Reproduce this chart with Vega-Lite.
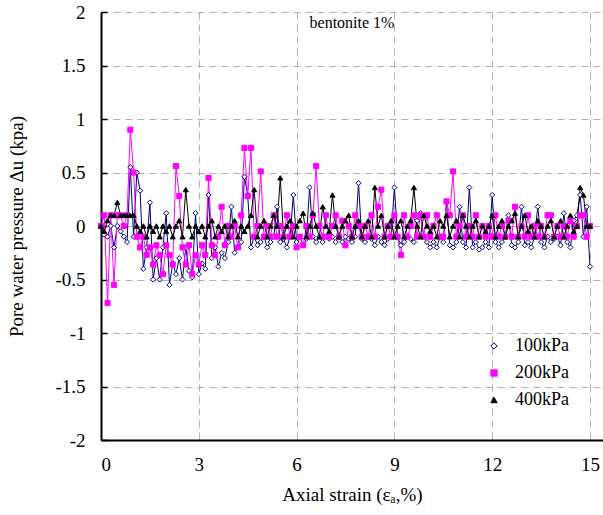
{
"$schema": "https://vega.github.io/schema/vega-lite/v6.json",
"width": 502, "height": 428,
"autosize": {"type": "none"},
"padding": {"left": 101, "top": 12, "right": 0, "bottom": 75},
"background": "white",
"title": {"text": "bentonite 1%", "fontSize": 16, "fontWeight": "normal", "font": "Liberation Serif", "anchor": "middle", "baseline": "top", "offset": 0, "dy": 28, "color": "black"},
"data": {"values": [
{"s":"100kPa","x":0.0,"y":0},{"s":"100kPa","x":0.1,"y":-0.08},{"s":"100kPa","x":0.2,"y":-0.1},{"s":"100kPa","x":0.3,"y":0},{"s":"100kPa","x":0.4,"y":-0.2},{"s":"100kPa","x":0.5,"y":0},{"s":"100kPa","x":0.6,"y":-0.05},{"s":"100kPa","x":0.7,"y":-0.1},{"s":"100kPa","x":0.8,"y":-0.15},{"s":"100kPa","x":0.9,"y":0.55},
{"s":"100kPa","x":1.0,"y":-0.1},{"s":"100kPa","x":1.1,"y":0.5},{"s":"100kPa","x":1.2,"y":0.33},{"s":"100kPa","x":1.3,"y":-0.4},{"s":"100kPa","x":1.4,"y":-0.2},{"s":"100kPa","x":1.5,"y":0.22},{"s":"100kPa","x":1.6,"y":-0.5},{"s":"100kPa","x":1.7,"y":-0.3},{"s":"100kPa","x":1.8,"y":-0.5},{"s":"100kPa","x":1.9,"y":-0.2},
{"s":"100kPa","x":2.0,"y":0.12},{"s":"100kPa","x":2.1,"y":-0.55},{"s":"100kPa","x":2.2,"y":-0.35},{"s":"100kPa","x":2.3,"y":-0.45},{"s":"100kPa","x":2.4,"y":-0.3},{"s":"100kPa","x":2.5,"y":-0.5},{"s":"100kPa","x":2.6,"y":-0.2},{"s":"100kPa","x":2.7,"y":-0.42},{"s":"100kPa","x":2.8,"y":-0.48},{"s":"100kPa","x":2.9,"y":0.12},
{"s":"100kPa","x":3.0,"y":-0.45},{"s":"100kPa","x":3.1,"y":-0.35},{"s":"100kPa","x":3.2,"y":-0.4},{"s":"100kPa","x":3.3,"y":0.29},{"s":"100kPa","x":3.4,"y":-0.3},{"s":"100kPa","x":3.5,"y":-0.2},{"s":"100kPa","x":3.6,"y":-0.38},{"s":"100kPa","x":3.7,"y":-0.25},{"s":"100kPa","x":3.8,"y":-0.3},{"s":"100kPa","x":3.9,"y":-0.15},
{"s":"100kPa","x":4.0,"y":0.18},{"s":"100kPa","x":4.1,"y":-0.25},{"s":"100kPa","x":4.2,"y":-0.2},{"s":"100kPa","x":4.3,"y":-0.15},{"s":"100kPa","x":4.4,"y":0.46},{"s":"100kPa","x":4.5,"y":0.29},{"s":"100kPa","x":4.6,"y":-0.2},{"s":"100kPa","x":4.7,"y":-0.1},{"s":"100kPa","x":4.8,"y":-0.18},{"s":"100kPa","x":4.9,"y":-0.15},
{"s":"100kPa","x":5.0,"y":-0.1},{"s":"100kPa","x":5.1,"y":-0.2},{"s":"100kPa","x":5.2,"y":-0.15},{"s":"100kPa","x":5.3,"y":-0.1},{"s":"100kPa","x":5.4,"y":0.18},{"s":"100kPa","x":5.5,"y":-0.15},{"s":"100kPa","x":5.6,"y":-0.12},{"s":"100kPa","x":5.7,"y":-0.2},{"s":"100kPa","x":5.8,"y":-0.1},{"s":"100kPa","x":5.9,"y":0.29},
{"s":"100kPa","x":6.0,"y":-0.15},{"s":"100kPa","x":6.1,"y":-0.1},{"s":"100kPa","x":6.2,"y":-0.18},{"s":"100kPa","x":6.3,"y":-0.12},{"s":"100kPa","x":6.4,"y":0.36},{"s":"100kPa","x":6.5,"y":-0.1},{"s":"100kPa","x":6.6,"y":-0.15},{"s":"100kPa","x":6.7,"y":-0.1},{"s":"100kPa","x":6.8,"y":-0.15},{"s":"100kPa","x":6.9,"y":-0.1},
{"s":"100kPa","x":7.0,"y":-0.12},{"s":"100kPa","x":7.1,"y":-0.1},{"s":"100kPa","x":7.2,"y":-0.15},{"s":"100kPa","x":7.3,"y":-0.1},{"s":"100kPa","x":7.4,"y":-0.15},{"s":"100kPa","x":7.5,"y":-0.1},{"s":"100kPa","x":7.6,"y":-0.12},{"s":"100kPa","x":7.7,"y":-0.15},{"s":"100kPa","x":7.8,"y":-0.1},{"s":"100kPa","x":7.9,"y":0.4},
{"s":"100kPa","x":8.0,"y":-0.12},{"s":"100kPa","x":8.1,"y":-0.15},{"s":"100kPa","x":8.2,"y":-0.1},{"s":"100kPa","x":8.3,"y":-0.12},{"s":"100kPa","x":8.4,"y":-0.18},{"s":"100kPa","x":8.5,"y":-0.1},{"s":"100kPa","x":8.6,"y":-0.15},{"s":"100kPa","x":8.7,"y":-0.18},{"s":"100kPa","x":8.8,"y":-0.12},{"s":"100kPa","x":8.9,"y":-0.1},
{"s":"100kPa","x":9.0,"y":0.36},{"s":"100kPa","x":9.1,"y":-0.1},{"s":"100kPa","x":9.2,"y":-0.18},{"s":"100kPa","x":9.3,"y":-0.15},{"s":"100kPa","x":9.4,"y":-0.1},{"s":"100kPa","x":9.5,"y":-0.12},{"s":"100kPa","x":9.6,"y":-0.15},{"s":"100kPa","x":9.7,"y":0.05},{"s":"100kPa","x":9.8,"y":0.12},{"s":"100kPa","x":9.9,"y":-0.1},
{"s":"100kPa","x":10.0,"y":-0.15},{"s":"100kPa","x":10.1,"y":-0.2},{"s":"100kPa","x":10.2,"y":-0.15},{"s":"100kPa","x":10.3,"y":-0.2},{"s":"100kPa","x":10.4,"y":-0.1},{"s":"100kPa","x":10.5,"y":-0.15},{"s":"100kPa","x":10.6,"y":0.22},{"s":"100kPa","x":10.7,"y":-0.18},{"s":"100kPa","x":10.8,"y":-0.2},{"s":"100kPa","x":10.9,"y":-0.15},
{"s":"100kPa","x":11.0,"y":0.18},{"s":"100kPa","x":11.1,"y":-0.15},{"s":"100kPa","x":11.2,"y":-0.2},{"s":"100kPa","x":11.3,"y":0.36},{"s":"100kPa","x":11.4,"y":-0.2},{"s":"100kPa","x":11.5,"y":-0.15},{"s":"100kPa","x":11.6,"y":-0.22},{"s":"100kPa","x":11.7,"y":-0.2},{"s":"100kPa","x":11.8,"y":-0.15},{"s":"100kPa","x":11.9,"y":-0.2},
{"s":"100kPa","x":12.0,"y":0.29},{"s":"100kPa","x":12.1,"y":-0.15},{"s":"100kPa","x":12.2,"y":-0.2},{"s":"100kPa","x":12.3,"y":-0.15},{"s":"100kPa","x":12.4,"y":-0.1},{"s":"100kPa","x":12.5,"y":0.1},{"s":"100kPa","x":12.6,"y":-0.18},{"s":"100kPa","x":12.7,"y":-0.2},{"s":"100kPa","x":12.8,"y":-0.15},{"s":"100kPa","x":12.9,"y":0.18},
{"s":"100kPa","x":13.0,"y":-0.18},{"s":"100kPa","x":13.1,"y":-0.15},{"s":"100kPa","x":13.2,"y":-0.2},{"s":"100kPa","x":13.3,"y":-0.1},{"s":"100kPa","x":13.4,"y":0.18},{"s":"100kPa","x":13.5,"y":-0.15},{"s":"100kPa","x":13.6,"y":-0.2},{"s":"100kPa","x":13.7,"y":-0.1},{"s":"100kPa","x":13.8,"y":-0.15},{"s":"100kPa","x":13.9,"y":-0.12},
{"s":"100kPa","x":14.0,"y":-0.1},{"s":"100kPa","x":14.1,"y":-0.18},{"s":"100kPa","x":14.2,"y":0.12},{"s":"100kPa","x":14.3,"y":-0.15},{"s":"100kPa","x":14.4,"y":-0.2},{"s":"100kPa","x":14.5,"y":0.05},{"s":"100kPa","x":14.6,"y":0.1},{"s":"100kPa","x":14.7,"y":0.29},{"s":"100kPa","x":14.8,"y":-0.1},{"s":"100kPa","x":14.9,"y":0.18},
{"s":"100kPa","x":15.0,"y":-0.38},
{"s":"200kPa","x":0.0,"y":0},{"s":"200kPa","x":0.1,"y":0.1},{"s":"200kPa","x":0.2,"y":-0.72},{"s":"200kPa","x":0.3,"y":0.1},{"s":"200kPa","x":0.4,"y":-0.55},{"s":"200kPa","x":0.5,"y":0.1},{"s":"200kPa","x":0.6,"y":0.1},{"s":"200kPa","x":0.7,"y":0},{"s":"200kPa","x":0.8,"y":0.1},{"s":"200kPa","x":0.9,"y":0.9},
{"s":"200kPa","x":1.0,"y":0.5},{"s":"200kPa","x":1.1,"y":-0.1},{"s":"200kPa","x":1.2,"y":-0.2},{"s":"200kPa","x":1.3,"y":-0.1},{"s":"200kPa","x":1.4,"y":-0.27},{"s":"200kPa","x":1.5,"y":-0.2},{"s":"200kPa","x":1.6,"y":-0.36},{"s":"200kPa","x":1.7,"y":-0.18},{"s":"200kPa","x":1.8,"y":-0.27},{"s":"200kPa","x":1.9,"y":-0.45},
{"s":"200kPa","x":2.0,"y":-0.18},{"s":"200kPa","x":2.1,"y":-0.27},{"s":"200kPa","x":2.2,"y":-0.36},{"s":"200kPa","x":2.3,"y":0.56},{"s":"200kPa","x":2.4,"y":0.28},{"s":"200kPa","x":2.5,"y":-0.2},{"s":"200kPa","x":2.6,"y":-0.36},{"s":"200kPa","x":2.7,"y":-0.18},{"s":"200kPa","x":2.8,"y":-0.45},{"s":"200kPa","x":2.9,"y":-0.27},
{"s":"200kPa","x":3.0,"y":-0.36},{"s":"200kPa","x":3.1,"y":-0.18},{"s":"200kPa","x":3.2,"y":-0.27},{"s":"200kPa","x":3.3,"y":0.45},{"s":"200kPa","x":3.4,"y":-0.18},{"s":"200kPa","x":3.5,"y":-0.27},{"s":"200kPa","x":3.6,"y":-0.1},{"s":"200kPa","x":3.7,"y":0.18},{"s":"200kPa","x":3.8,"y":-0.18},{"s":"200kPa","x":3.9,"y":0},
{"s":"200kPa","x":4.0,"y":-0.1},{"s":"200kPa","x":4.1,"y":0},{"s":"200kPa","x":4.2,"y":-0.2},{"s":"200kPa","x":4.3,"y":0.1},{"s":"200kPa","x":4.4,"y":0.73},{"s":"200kPa","x":4.5,"y":0.28},{"s":"200kPa","x":4.6,"y":0.73},{"s":"200kPa","x":4.7,"y":-0.1},{"s":"200kPa","x":4.8,"y":0},{"s":"200kPa","x":4.9,"y":0.51},
{"s":"200kPa","x":5.0,"y":-0.1},{"s":"200kPa","x":5.1,"y":0},{"s":"200kPa","x":5.2,"y":-0.1},{"s":"200kPa","x":5.3,"y":0.1},{"s":"200kPa","x":5.4,"y":-0.1},{"s":"200kPa","x":5.5,"y":0},{"s":"200kPa","x":5.6,"y":-0.1},{"s":"200kPa","x":5.7,"y":0.1},{"s":"200kPa","x":5.8,"y":-0.1},{"s":"200kPa","x":5.9,"y":0},
{"s":"200kPa","x":6.0,"y":-0.2},{"s":"200kPa","x":6.1,"y":-0.1},{"s":"200kPa","x":6.2,"y":-0.18},{"s":"200kPa","x":6.3,"y":0},{"s":"200kPa","x":6.4,"y":-0.1},{"s":"200kPa","x":6.5,"y":0.1},{"s":"200kPa","x":6.6,"y":0.56},{"s":"200kPa","x":6.7,"y":0},{"s":"200kPa","x":6.8,"y":-0.1},{"s":"200kPa","x":6.9,"y":0.1},
{"s":"200kPa","x":7.0,"y":-0.1},{"s":"200kPa","x":7.1,"y":0},{"s":"200kPa","x":7.2,"y":0.1},{"s":"200kPa","x":7.3,"y":-0.1},{"s":"200kPa","x":7.4,"y":0.05},{"s":"200kPa","x":7.5,"y":-0.18},{"s":"200kPa","x":7.6,"y":0},{"s":"200kPa","x":7.7,"y":-0.1},{"s":"200kPa","x":7.8,"y":0.1},{"s":"200kPa","x":7.9,"y":0},
{"s":"200kPa","x":8.0,"y":-0.1},{"s":"200kPa","x":8.1,"y":0},{"s":"200kPa","x":8.2,"y":-0.1},{"s":"200kPa","x":8.3,"y":0.1},{"s":"200kPa","x":8.4,"y":-0.1},{"s":"200kPa","x":8.5,"y":0.18},{"s":"200kPa","x":8.6,"y":0.34},{"s":"200kPa","x":8.7,"y":-0.1},{"s":"200kPa","x":8.8,"y":0},{"s":"200kPa","x":8.9,"y":-0.1},
{"s":"200kPa","x":9.0,"y":0.1},{"s":"200kPa","x":9.1,"y":-0.1},{"s":"200kPa","x":9.2,"y":-0.27},{"s":"200kPa","x":9.3,"y":0.1},{"s":"200kPa","x":9.4,"y":-0.1},{"s":"200kPa","x":9.5,"y":0},{"s":"200kPa","x":9.6,"y":0.1},{"s":"200kPa","x":9.7,"y":-0.1},{"s":"200kPa","x":9.8,"y":0.1},{"s":"200kPa","x":9.9,"y":-0.1},
{"s":"200kPa","x":10.0,"y":0.1},{"s":"200kPa","x":10.1,"y":-0.1},{"s":"200kPa","x":10.2,"y":0},{"s":"200kPa","x":10.3,"y":0.1},{"s":"200kPa","x":10.4,"y":-0.1},{"s":"200kPa","x":10.5,"y":-0.1},{"s":"200kPa","x":10.6,"y":0.23},{"s":"200kPa","x":10.7,"y":0.1},{"s":"200kPa","x":10.8,"y":0.51},{"s":"200kPa","x":10.9,"y":-0.1},
{"s":"200kPa","x":11.0,"y":0},{"s":"200kPa","x":11.1,"y":0.1},{"s":"200kPa","x":11.2,"y":-0.1},{"s":"200kPa","x":11.3,"y":0},{"s":"200kPa","x":11.4,"y":-0.1},{"s":"200kPa","x":11.5,"y":0.1},{"s":"200kPa","x":11.6,"y":-0.1},{"s":"200kPa","x":11.7,"y":0},{"s":"200kPa","x":11.8,"y":-0.1},{"s":"200kPa","x":11.9,"y":0},
{"s":"200kPa","x":12.0,"y":-0.1},{"s":"200kPa","x":12.1,"y":0.1},{"s":"200kPa","x":12.2,"y":-0.1},{"s":"200kPa","x":12.3,"y":0},{"s":"200kPa","x":12.4,"y":-0.1},{"s":"200kPa","x":12.5,"y":0.05},{"s":"200kPa","x":12.6,"y":-0.1},{"s":"200kPa","x":12.7,"y":0.18},{"s":"200kPa","x":12.8,"y":-0.1},{"s":"200kPa","x":12.9,"y":0},
{"s":"200kPa","x":13.0,"y":-0.1},{"s":"200kPa","x":13.1,"y":0.1},{"s":"200kPa","x":13.2,"y":-0.1},{"s":"200kPa","x":13.3,"y":0},{"s":"200kPa","x":13.4,"y":-0.1},{"s":"200kPa","x":13.5,"y":0},{"s":"200kPa","x":13.6,"y":-0.1},{"s":"200kPa","x":13.7,"y":0.1},{"s":"200kPa","x":13.8,"y":0.1},{"s":"200kPa","x":13.9,"y":-0.1},
{"s":"200kPa","x":14.0,"y":0},{"s":"200kPa","x":14.1,"y":-0.1},{"s":"200kPa","x":14.2,"y":0},{"s":"200kPa","x":14.3,"y":-0.1},{"s":"200kPa","x":14.4,"y":0.05},{"s":"200kPa","x":14.5,"y":-0.1},{"s":"200kPa","x":14.6,"y":0},{"s":"200kPa","x":14.7,"y":0.1},{"s":"200kPa","x":14.8,"y":0.1},{"s":"200kPa","x":14.9,"y":-0.1},
{"s":"200kPa","x":15.0,"y":0},
{"s":"400kPa","x":0.0,"y":0},{"s":"400kPa","x":0.1,"y":-0.05},{"s":"400kPa","x":0.2,"y":0.05},{"s":"400kPa","x":0.3,"y":0.1},{"s":"400kPa","x":0.4,"y":0.1},{"s":"400kPa","x":0.5,"y":0.22},{"s":"400kPa","x":0.6,"y":0.1},{"s":"400kPa","x":0.7,"y":0.1},{"s":"400kPa","x":0.8,"y":0.1},{"s":"400kPa","x":0.9,"y":0.1},
{"s":"400kPa","x":1.0,"y":0.1},{"s":"400kPa","x":1.1,"y":0},{"s":"400kPa","x":1.2,"y":-0.05},{"s":"400kPa","x":1.3,"y":0},{"s":"400kPa","x":1.4,"y":-0.1},{"s":"400kPa","x":1.5,"y":0},{"s":"400kPa","x":1.6,"y":-0.05},{"s":"400kPa","x":1.7,"y":0},{"s":"400kPa","x":1.8,"y":-0.1},{"s":"400kPa","x":1.9,"y":0},
{"s":"400kPa","x":2.0,"y":-0.05},{"s":"400kPa","x":2.1,"y":0},{"s":"400kPa","x":2.2,"y":-0.1},{"s":"400kPa","x":2.3,"y":0},{"s":"400kPa","x":2.4,"y":0.05},{"s":"400kPa","x":2.5,"y":-0.1},{"s":"400kPa","x":2.6,"y":0.34},{"s":"400kPa","x":2.7,"y":0},{"s":"400kPa","x":2.8,"y":-0.1},{"s":"400kPa","x":2.9,"y":0},
{"s":"400kPa","x":3.0,"y":-0.05},{"s":"400kPa","x":3.1,"y":0},{"s":"400kPa","x":3.2,"y":-0.1},{"s":"400kPa","x":3.3,"y":0},{"s":"400kPa","x":3.4,"y":0.05},{"s":"400kPa","x":3.5,"y":-0.1},{"s":"400kPa","x":3.6,"y":0},{"s":"400kPa","x":3.7,"y":-0.05},{"s":"400kPa","x":3.8,"y":0},{"s":"400kPa","x":3.9,"y":-0.1},
{"s":"400kPa","x":4.0,"y":0},{"s":"400kPa","x":4.1,"y":0.05},{"s":"400kPa","x":4.2,"y":-0.1},{"s":"400kPa","x":4.3,"y":0},{"s":"400kPa","x":4.4,"y":-0.05},{"s":"400kPa","x":4.5,"y":0},{"s":"400kPa","x":4.6,"y":0.1},{"s":"400kPa","x":4.7,"y":0.34},{"s":"400kPa","x":4.8,"y":-0.1},{"s":"400kPa","x":4.9,"y":0},
{"s":"400kPa","x":5.0,"y":0.05},{"s":"400kPa","x":5.1,"y":-0.1},{"s":"400kPa","x":5.2,"y":0},{"s":"400kPa","x":5.3,"y":0.1},{"s":"400kPa","x":5.4,"y":0},{"s":"400kPa","x":5.5,"y":0.45},{"s":"400kPa","x":5.6,"y":-0.1},{"s":"400kPa","x":5.7,"y":0},{"s":"400kPa","x":5.8,"y":0.05},{"s":"400kPa","x":5.9,"y":-0.1},
{"s":"400kPa","x":6.0,"y":0},{"s":"400kPa","x":6.1,"y":0.05},{"s":"400kPa","x":6.2,"y":0.12},{"s":"400kPa","x":6.3,"y":-0.1},{"s":"400kPa","x":6.4,"y":0},{"s":"400kPa","x":6.5,"y":0.12},{"s":"400kPa","x":6.6,"y":0},{"s":"400kPa","x":6.7,"y":-0.1},{"s":"400kPa","x":6.8,"y":0.18},{"s":"400kPa","x":6.9,"y":0},
{"s":"400kPa","x":7.0,"y":-0.05},{"s":"400kPa","x":7.1,"y":0.29},{"s":"400kPa","x":7.2,"y":0},{"s":"400kPa","x":7.3,"y":-0.1},{"s":"400kPa","x":7.4,"y":0},{"s":"400kPa","x":7.5,"y":0.05},{"s":"400kPa","x":7.6,"y":0.1},{"s":"400kPa","x":7.7,"y":-0.1},{"s":"400kPa","x":7.8,"y":0},{"s":"400kPa","x":7.9,"y":0.05},
{"s":"400kPa","x":8.0,"y":-0.1},{"s":"400kPa","x":8.1,"y":0},{"s":"400kPa","x":8.2,"y":0.05},{"s":"400kPa","x":8.3,"y":-0.1},{"s":"400kPa","x":8.4,"y":0.36},{"s":"400kPa","x":8.5,"y":0},{"s":"400kPa","x":8.6,"y":0.1},{"s":"400kPa","x":8.7,"y":-0.1},{"s":"400kPa","x":8.8,"y":0},{"s":"400kPa","x":8.9,"y":0.05},
{"s":"400kPa","x":9.0,"y":-0.1},{"s":"400kPa","x":9.1,"y":0},{"s":"400kPa","x":9.2,"y":0.05},{"s":"400kPa","x":9.3,"y":-0.1},{"s":"400kPa","x":9.4,"y":0},{"s":"400kPa","x":9.5,"y":0.05},{"s":"400kPa","x":9.6,"y":0.36},{"s":"400kPa","x":9.7,"y":0},{"s":"400kPa","x":9.8,"y":-0.1},{"s":"400kPa","x":9.9,"y":0.1},
{"s":"400kPa","x":10.0,"y":0},{"s":"400kPa","x":10.1,"y":-0.05},{"s":"400kPa","x":10.2,"y":0},{"s":"400kPa","x":10.3,"y":-0.1},{"s":"400kPa","x":10.4,"y":0.05},{"s":"400kPa","x":10.5,"y":0},{"s":"400kPa","x":10.6,"y":0.1},{"s":"400kPa","x":10.7,"y":-0.1},{"s":"400kPa","x":10.8,"y":0},{"s":"400kPa","x":10.9,"y":0.05},
{"s":"400kPa","x":11.0,"y":-0.1},{"s":"400kPa","x":11.1,"y":0.1},{"s":"400kPa","x":11.2,"y":0},{"s":"400kPa","x":11.3,"y":-0.1},{"s":"400kPa","x":11.4,"y":0},{"s":"400kPa","x":11.5,"y":0.05},{"s":"400kPa","x":11.6,"y":-0.1},{"s":"400kPa","x":11.7,"y":0},{"s":"400kPa","x":11.8,"y":-0.05},{"s":"400kPa","x":11.9,"y":0},
{"s":"400kPa","x":12.0,"y":0.1},{"s":"400kPa","x":12.1,"y":-0.1},{"s":"400kPa","x":12.2,"y":0},{"s":"400kPa","x":12.3,"y":0.05},{"s":"400kPa","x":12.4,"y":-0.1},{"s":"400kPa","x":12.5,"y":0},{"s":"400kPa","x":12.6,"y":0.05},{"s":"400kPa","x":12.7,"y":0.12},{"s":"400kPa","x":12.8,"y":-0.1},{"s":"400kPa","x":12.9,"y":0},
{"s":"400kPa","x":13.0,"y":0.1},{"s":"400kPa","x":13.1,"y":-0.05},{"s":"400kPa","x":13.2,"y":0},{"s":"400kPa","x":13.3,"y":-0.1},{"s":"400kPa","x":13.4,"y":0.05},{"s":"400kPa","x":13.5,"y":0},{"s":"400kPa","x":13.6,"y":-0.1},{"s":"400kPa","x":13.7,"y":0},{"s":"400kPa","x":13.8,"y":0.05},{"s":"400kPa","x":13.9,"y":-0.1},
{"s":"400kPa","x":14.0,"y":0},{"s":"400kPa","x":14.1,"y":0.05},{"s":"400kPa","x":14.2,"y":-0.1},{"s":"400kPa","x":14.3,"y":0},{"s":"400kPa","x":14.4,"y":0.1},{"s":"400kPa","x":14.5,"y":-0.05},{"s":"400kPa","x":14.6,"y":0},{"s":"400kPa","x":14.7,"y":0.36},{"s":"400kPa","x":14.8,"y":0.29},{"s":"400kPa","x":14.9,"y":0},
{"s":"400kPa","x":15.0,"y":0}
]},
"encoding": {
  "x": {"field": "x", "type": "quantitative", "scale": {"domain": [0, 15.4], "nice": false, "zero": false},
   "axis": {"values": [0, 3, 6, 9, 12, 15], "title": "Axial strain (εₐ,%)", "ticks": false, "labelPadding": 15, "titlePadding": 11, "labelFont": "Liberation Serif", "titleFont": "Liberation Serif", "labelFontSize": 19, "titleFontSize": 19}},
  "y": {"field": "y", "type": "quantitative", "scale": {"domain": [-2, 2], "nice": false},
   "axis": {"values": [-2, -1.5, -1, -0.5, 0, 0.5, 1, 1.5, 2], "labelExpr": "'' + datum.value", "title": "Pore water pressure Δu  (kpa)", "ticks": true, "tickSize": -6, "tickColor": "black", "tickWidth": 1.5, "labelPadding": 22, "titlePadding": 28, "labelFont": "Liberation Serif", "titleFont": "Liberation Serif", "labelFontSize": 19, "titleFontSize": 19}}
},
"layer": [
{"mark": {"type": "line", "strokeWidth": 1},
 "encoding": {
  "color": {"field": "s", "type": "nominal", "scale": {"domain": ["100kPa", "200kPa", "400kPa"], "range": ["#000080", "#ff00ff", "#000000"]}, "legend": null},
  "detail": {"field": "s"}
 }},
{"mark": {"type": "point", "strokeWidth": 1, "opacity": 1, "filled": false, "size": 26},
 "encoding": {
  "shape": {"field": "s", "type": "nominal", "scale": {"domain": ["100kPa", "200kPa", "400kPa"], "range": ["diamond", "square", "triangle-up"]},
    "legend": {"title": null, "orient": "none", "legendX": 384, "legendY": 325, "labelFont": "Liberation Serif", "labelFontSize": 18}},
  "stroke": {"field": "s", "type": "nominal", "scale": {"domain": ["100kPa", "200kPa", "400kPa"], "range": ["#000080", "#ff00ff", "#000000"]},
    "legend": {"title": null, "orient": "none", "legendX": 384, "legendY": 325, "labelFont": "Liberation Serif", "labelFontSize": 18}},
  "fill": {"field": "s", "type": "nominal", "scale": {"domain": ["100kPa", "200kPa", "400kPa"], "range": ["#ffffff", "#ff00ff", "#000000"]},
    "legend": {"title": null, "orient": "none", "legendX": 384, "legendY": 325, "labelFont": "Liberation Serif", "labelFontSize": 18}}
 }},
{"data": {"values": [{}]},
 "mark": {"type": "rule", "color": "black", "strokeWidth": 1.5},
 "encoding": {"y": {"datum": 0}, "x": null}}
],
"resolve": {"scale": {"color": "independent"}},
"config": {"view": {"stroke": null},
 "font": "Liberation Serif",
 "axis": {"labelFontSize": 19, "titleFontSize": 19, "titleFontWeight": "normal", "labelColor": "black", "titleColor": "black", "grid": true, "gridDash": [7, 5], "gridColor": "#b0b0b0", "gridWidth": 1, "domainColor": "black", "domainWidth": 2},
 "legend": {"labelFontSize": 18, "labelColor": "black", "symbolSize": 40, "symbolStrokeWidth": 1, "rowPadding": 9, "labelOffset": 12, "padding": 0}}
}
